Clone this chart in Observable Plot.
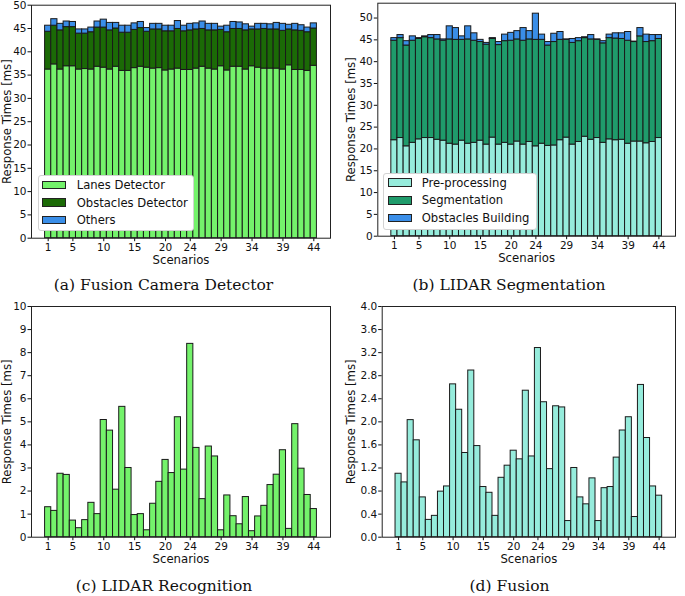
<!DOCTYPE html>
<html><head><meta charset="utf-8">
<script src="https://cdn.jsdelivr.net/npm/d3@7"></script>
<script src="https://cdn.jsdelivr.net/npm/@observablehq/plot@0.6"></script>
<style>
body{margin:0;background:#fff;}
#fig{position:relative;width:685px;height:596px;background:#fff;font-family:"DejaVu Sans";overflow:hidden}
.panel{position:absolute}
.panel svg{overflow:visible}
.cap{position:absolute;font-family:"DejaVu Serif";font-size:15.5px;white-space:nowrap;transform:translate(-50%,-50%);color:#111}
.legend{position:absolute;background:#fff;border:1px solid #d3d3d3;border-radius:3px;box-sizing:border-box}
.patch{position:absolute;width:23.7px;height:8.7px;box-sizing:border-box;border:1px solid #222}
.ltext{position:absolute;font-family:"DejaVu Sans";font-size:11.6px;white-space:nowrap;transform:translateY(-50%);color:#111}
g[aria-label="x-axis label"] text, g[aria-label="y-axis label"] text{font-size:11.7px}
</style></head>
<body><div id="fig"></div>
<script>
// ---------- data ----------
const scenarios = [1,2,3,4,5,6,7,8,9,10,11,12,13,14,15,16,17,18,19,20,21,22,23,24,25,26,27,28,29,30,31,32,33,34,35,36,37,38,39,40,41,42,43,44];
const xTicks = [1,5,10,15,20,24,29,34,39,44];

// (a) Fusion Camera Detector
const seriesA = ["Lanes Detector","Obstacles Detector","Others"];
const colorsA = ["#74f26b","#1b6a06","#3a8ee8"];
const lanesDetector = [36.2,37.3,36.2,36.9,36.9,36.2,36.3,36.2,36.8,36.6,36.2,36.8,35.9,35.9,36.5,36.8,36.6,36.4,36.5,36.0,36.2,36.4,36.1,36.1,36.4,36.8,36.4,36.2,36.9,36.0,36.8,36.8,36.2,36.9,36.6,36.4,36.4,36.4,36.2,37.1,36.1,36.1,35.9,37.0];
const obstaclesDetector = [8.1,8.3,8.4,8.4,8.4,7.7,7.6,8.0,8.4,8.6,8.4,8.2,8.2,8.2,8.2,8.3,7.7,8.4,8.3,8.4,8.2,8.5,8.3,8.5,8.4,8.1,8.2,8.4,7.8,8.2,8.1,8.1,8.4,7.9,8.2,8.5,8.4,8.4,8.3,7.7,8.5,8.4,8.3,8.0];
const othersA = [1.3,1.4,1.4,1.2,1.1,0.9,0.9,1.0,1.3,1.7,1.6,1.2,1.5,1.5,1.4,1.3,0.8,1.2,1.2,1.2,1.2,1.7,1.2,1.4,1.3,1.6,1.4,1.4,0.7,1.4,1.5,1.4,1.3,0.6,1.2,1.1,1.1,1.4,1.5,1.0,1.4,1.2,1.0,1.1];
const yTicksA = [0,5,10,15,20,25,30,35,40,45,50];

// (b) LIDAR Segmentation
const seriesB = ["Pre-processing","Segmentation","Obstacles Building"];
const colorsB = ["#96ecdc","#1f9b6b","#3a8ee8"];
const preProcessing = [22.0,22.5,20.6,21.4,22.2,22.5,22.5,22.1,21.9,21.2,21.0,21.9,21.2,21.4,21.9,21.0,22.6,21.0,21.4,21.0,21.7,21.0,21.6,20.6,21.2,20.7,20.8,22.0,22.6,21.0,21.6,22.8,22.1,22.5,21.4,22.2,22.0,22.1,21.2,21.7,21.7,21.3,21.6,22.5];
const segmentation = [22.8,22.9,23.1,23.4,23.0,23.1,22.9,23.0,22.9,23.9,24.0,23.1,23.9,23.4,22.6,22.9,22.6,22.8,23.3,23.8,23.4,23.8,23.5,24.4,23.8,23.0,23.7,23.0,22.4,23.3,23.1,22.6,23.0,22.5,22.8,23.2,23.3,23.1,23.6,22.8,24.1,23.2,23.1,22.7];
const obstaclesBuilding = [0.6,0.7,1.0,1.0,0.2,0.2,0.7,1.0,0.3,3.0,2.7,0.8,3.0,1.7,0.5,0.4,0.2,0.7,1.5,1.8,1.9,2.9,1.9,6.0,1.2,0.8,1.9,1.8,0.1,0.9,0.7,0.2,1.0,0.1,0.5,0.8,1.2,1.3,2.0,0.1,1.9,1.7,1.4,0.9];
const yTicksB = [0,5,10,15,20,25,30,35,40,45,50];

// (c) LIDAR Recognition
const lidarRecognition = [1.30,1.14,2.75,2.70,0.72,0.39,0.74,1.49,1.00,5.08,4.62,2.06,5.65,3.00,0.96,1.00,0.30,1.45,2.40,3.35,2.78,5.20,2.93,8.38,3.87,1.65,3.93,3.50,0.30,1.81,0.91,0.56,1.74,0.26,0.90,1.36,2.26,2.71,3.77,0.36,4.90,2.97,1.83,1.22];
const yTicksC = [0,1,2,3,4,5,6,7,8,9,10];

// (d) Fusion
const fusion = [1.10,0.95,2.03,1.68,0.69,0.30,0.37,0.79,0.88,2.65,2.21,1.46,2.89,1.58,0.87,0.77,0.37,1.03,1.24,1.50,1.35,2.54,1.40,3.28,2.34,1.18,2.27,2.25,0.28,1.20,0.69,0.57,1.02,0.28,0.85,0.87,1.38,1.85,2.08,0.35,2.64,1.72,0.88,0.72];
const yTicksD = [0,0.4,0.8,1.2,1.6,2.0,2.4,2.8,3.2,3.6,4.0];

const singleColorC = "#74f26b";
const singleColorD = "#96ecdc";

const captions = ["(a) Fusion Camera Detector","(b) LIDAR Segmentation","(c) LIDAR Recognition","(d) Fusion"];
const yLabel = "Response Times [ms]";
const xLabel = "Scenarios";

// ---------- build ----------
const fig = document.getElementById("fig");

function stackRows(series, arrays) {
  const rows = [];
  scenarios.forEach((s, i) => series.forEach((k, j) => rows.push({s, k, v: arrays[j][i]})));
  return rows;
}

function makePanel(cfg) {
  const chart = Plot.plot({
    width: cfg.w, height: cfg.h,
    marginTop: cfg.mt, marginBottom: cfg.mb, marginLeft: cfg.ml, marginRight: cfg.mr,
    style: {fontFamily: "DejaVu Sans", fontSize: "10.5px", color: "#111", background: "transparent", overflow: "visible"},
    x: {type: "band", domain: scenarios, paddingInner: 0, paddingOuter: 2.2, round: false,
        ticks: xTicks, tickSize: 3.5, tickPadding: 1.5,
        label: xLabel, labelAnchor: "center", labelArrow: "none", labelOffset: 26},
    y: {domain: cfg.yDomain, ticks: cfg.yTicks, tickFormat: cfg.fmt, tickSize: 3.5, tickPadding: 1.5,
        label: yLabel, labelAnchor: "center", labelArrow: "none", labelOffset: cfg.ylo},
    color: {domain: cfg.series, range: cfg.colors},
    marks: [
      Plot.barY(cfg.rows, {x: "s", y: "v", fill: "k", stroke: "#1a1a1a", strokeWidth: 1}),
      Plot.frame({stroke: "#222", strokeWidth: 1})
    ]
  });
  const div = document.createElement("div");
  div.className = "panel";
  div.style.left = cfg.left + "px"; div.style.top = cfg.top + "px";
  div.appendChild(chart);
  fig.appendChild(div);
}

makePanel({left: 0, top: 0, w: 340, h: 266, mt: 4.7, mb: 28.3, ml: 31, mr: 10, ylo: 29,
  yDomain: [0, 50], yTicks: yTicksA, fmt: d3.format("d"),
  series: seriesA, colors: colorsA, rows: stackRows(seriesA, [lanesDetector, obstaclesDetector, othersA])});
makePanel({left: 340, top: 0, w: 345, h: 266, mt: 2.7, mb: 30.3, ml: 37.3, mr: 10, ylo: 30.8,
  yDomain: [0, 53.4], yTicks: yTicksB, fmt: d3.format("d"),
  series: seriesB, colors: colorsB, rows: stackRows(seriesB, [preProcessing, segmentation, obstaclesBuilding])});
makePanel({left: 0, top: 300, w: 340, h: 266, mt: 6, mb: 29.3, ml: 31, mr: 10, ylo: 29,
  yDomain: [0, 10], yTicks: yTicksC, fmt: d3.format("d"),
  series: ["LIDAR Recognition"], colors: [singleColorC], rows: stackRows(["LIDAR Recognition"], [lidarRecognition])});
makePanel({left: 340, top: 300, w: 345, h: 266, mt: 6, mb: 29.3, ml: 41.7, mr: 10, ylo: 35.2,
  yDomain: [0, 4], yTicks: yTicksD, fmt: d3.format(".1f"),
  series: ["Fusion"], colors: [singleColorD], rows: stackRows(["Fusion"], [fusion])});

// legends
function legend(box, series, colors) {
  const lg = document.createElement("div");
  lg.className = "legend";
  Object.assign(lg.style, {left: box.x + "px", top: box.y + "px", width: box.w + "px", height: box.h + "px"});
  fig.appendChild(lg);
  series.forEach((name, i) => {
    const cy = box.row0 + i * box.step;
    const p = document.createElement("div");
    p.className = "patch";
    Object.assign(p.style, {left: box.px + "px", top: (cy - 4.35) + "px", background: colors[i]});
    fig.appendChild(p);
    const t = document.createElement("div");
    t.className = "ltext";
    t.textContent = name;
    Object.assign(t.style, {left: box.tx + "px", top: cy + "px"});
    fig.appendChild(t);
  });
}
legend({x: 37.7, y: 175, w: 156.5, h: 56, row0: 185, step: 17.5, px: 42.3, tx: 76.7}, seriesA, colorsA);
legend({x: 383.3, y: 173.3, w: 153.4, h: 56.7, row0: 182.7, step: 17.7, px: 388.3, tx: 421.7}, seriesB, colorsB);

// captions
const capPos = [[163.5, 285], [509, 285], [164, 585.7], [509.5, 585.7]];
captions.forEach((c, i) => {
  const d = document.createElement("div");
  d.className = "cap";
  d.textContent = c;
  d.style.left = capPos[i][0] + "px";
  d.style.top = capPos[i][1] + "px";
  fig.appendChild(d);
});
</script></body></html>
